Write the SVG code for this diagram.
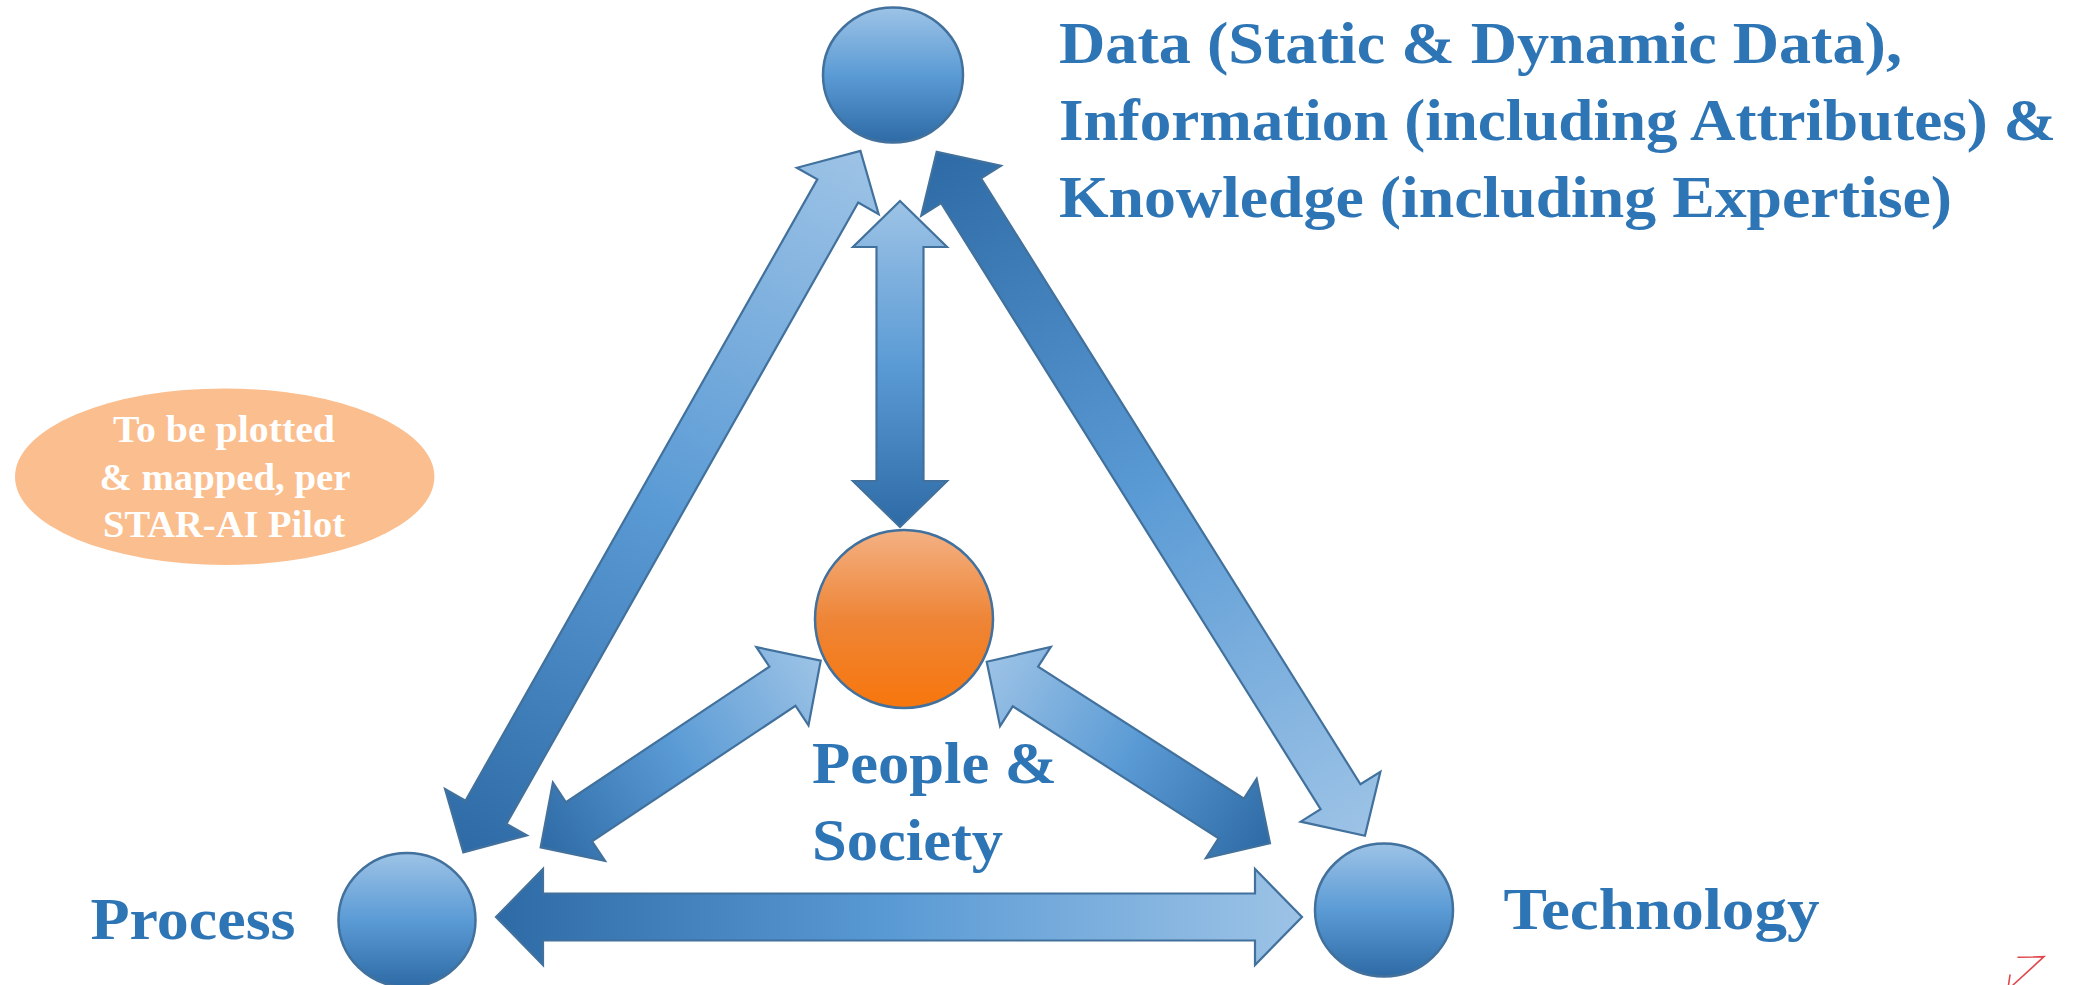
<svg xmlns="http://www.w3.org/2000/svg" width="2088" height="985" viewBox="0 0 2088 985">
  <defs>
    <!-- double-headed arrows: dark at the path start, light at the path end -->
    <linearGradient id="arrowFill" x1="0" y1="0" x2="1" y2="0">
      <stop offset="0" stop-color="#2E6BA6"/>
      <stop offset="0.5" stop-color="#5B9BD5"/>
      <stop offset="1" stop-color="#9DC3E6"/>
    </linearGradient>
    <linearGradient id="blueBall" x1="0" y1="0" x2="0" y2="1">
      <stop offset="0" stop-color="#9DC3E6"/>
      <stop offset="0.5" stop-color="#5B9BD5"/>
      <stop offset="1" stop-color="#2E6BA6"/>
    </linearGradient>
    <linearGradient id="orangeBall" x1="0" y1="0" x2="0" y2="1">
      <stop offset="0" stop-color="#F4B183"/>
      <stop offset="0.5" stop-color="#EE8537"/>
      <stop offset="1" stop-color="#F8760C"/>
    </linearGradient>
    <style>
      .arrow { fill: url(#arrowFill); stroke: #41719C; stroke-width: 2.2; stroke-linejoin: miter; }
      .ball { fill: url(#blueBall); stroke: #41719C; stroke-width: 2.5; }
      .hub { fill: url(#orangeBall); stroke: #41719C; stroke-width: 2.5; }
      .label { font-family: "Liberation Serif", "Times New Roman", serif; font-weight: bold; fill: #2E75B6; font-size: 60px; }
      .note-text { font-family: "Liberation Serif", "Times New Roman", serif; font-weight: bold; fill: #FFFFFF; font-size: 38px; text-anchor: middle; }
    </style>
  </defs>

  <rect width="2088" height="985" fill="#FFFFFF"/>

  <g id="connectors">
    <!-- Process <-> Data -->
    <path class="arrow" transform="translate(463.3 852.3) rotate(-60.48)"
          d="M0 0 L46 -47 L46 -23.5 L760 -23.5 L760 -47 L806 0 L760 47 L760 23.5 L46 23.5 L46 47 Z"/>
    <!-- Data <-> Technology -->
    <path class="arrow" transform="translate(936.7 151.7) rotate(57.95)"
          d="M0 0 L46 -47 L46 -23.5 L761 -23.5 L761 -47 L807 0 L761 47 L761 23.5 L46 23.5 L46 47 Z"/>
    <!-- People & Society <-> Data -->
    <path class="arrow" transform="translate(900 527) rotate(-90)"
          d="M0 0 L46 -47 L46 -23.5 L280 -23.5 L280 -47 L326 0 L280 47 L280 23.5 L46 23.5 L46 47 Z"/>
    <!-- Process <-> People & Society -->
    <path class="arrow" transform="translate(540.7 847.3) rotate(-33.68)"
          d="M0 0 L46 -47 L46 -23.5 L290.5 -23.5 L290.5 -47 L336.5 0 L290.5 47 L290.5 23.5 L46 23.5 L46 47 Z"/>
    <!-- Technology <-> People & Society -->
    <path class="arrow" transform="translate(1270 843.3) rotate(-147.34)"
          d="M0 0 L46 -47 L46 -23.5 L290.5 -23.5 L290.5 -47 L336.5 0 L290.5 47 L290.5 23.5 L46 23.5 L46 47 Z"/>
    <!-- Process <-> Technology -->
    <path class="arrow" transform="translate(496 917)"
          d="M0 0 L47 -48 L47 -23.5 L759 -23.5 L759 -48 L806 0 L759 48 L759 23.5 L47 23.5 L47 48 Z"/>
  </g>

  <g id="node-data">
    <ellipse class="ball" cx="893" cy="75" rx="70" ry="67.5"/>
    <text class="label" x="1059" y="63" textLength="843" lengthAdjust="spacingAndGlyphs">Data (Static &amp; Dynamic Data),</text>
    <text class="label" x="1059" y="140" textLength="997" lengthAdjust="spacingAndGlyphs">Information (including Attributes) &amp;</text>
    <text class="label" x="1059" y="217" textLength="893" lengthAdjust="spacingAndGlyphs">Knowledge (including Expertise)</text>
  </g>

  <g id="node-people">
    <circle class="hub" cx="904" cy="619" r="89"/>
    <text class="label" x="812" y="783" textLength="245" lengthAdjust="spacingAndGlyphs">People &amp;</text>
    <text class="label" x="812" y="860" textLength="191" lengthAdjust="spacingAndGlyphs">Society</text>
  </g>

  <g id="node-process">
    <ellipse class="ball" cx="407" cy="920" rx="68.5" ry="67"/>
    <text class="label" x="90.5" y="939" textLength="205" lengthAdjust="spacingAndGlyphs">Process</text>
  </g>

  <g id="node-technology">
    <ellipse class="ball" cx="1384" cy="910" rx="69" ry="66.5"/>
    <text class="label" x="1503.5" y="929" textLength="316" lengthAdjust="spacingAndGlyphs">Technology</text>
  </g>

  <g id="note">
    <ellipse cx="224.7" cy="476.7" rx="209.7" ry="88.3" fill="#FBBE8E"/>
    <text class="note-text" x="224" y="441.7" textLength="222" lengthAdjust="spacingAndGlyphs">To be plotted</text>
    <text class="note-text" x="225" y="490" textLength="251" lengthAdjust="spacingAndGlyphs">&amp; mapped, per</text>
    <text class="note-text" x="224" y="536.7" textLength="242" lengthAdjust="spacingAndGlyphs">STAR-AI Pilot</text>
  </g>

  <!-- small red corner mark -->
  <g id="corner-mark" fill="none" stroke="#E0474C" stroke-width="1.6" stroke-linecap="round">
    <path d="M2018 957.3 L2044 956.7 L2013 985"/>
    <path d="M2010 975 L2008.5 985"/>
  </g>
</svg>
